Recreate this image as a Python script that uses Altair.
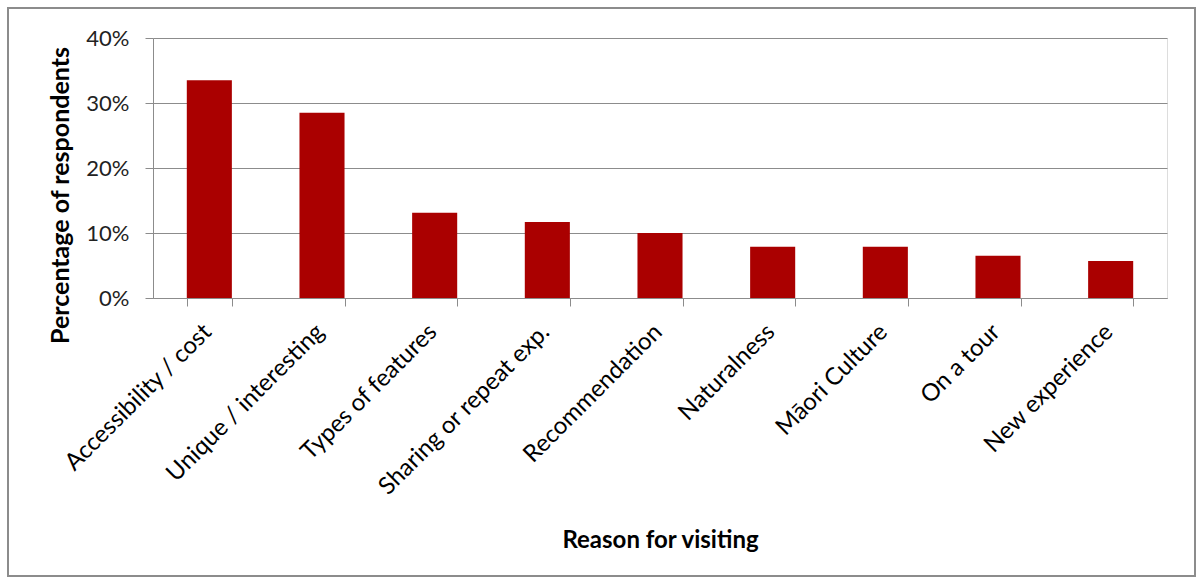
import altair as alt
import pandas as pd

reasons = ["Accessibility / cost", "Unique / interesting", "Types of features",
           "Sharing or repeat exp.", "Recommendation", "Naturalness",
           "Māori Culture", "On a tour", "New experience"]
shares = [0.335, 0.285, 0.131, 0.117, 0.100, 0.079, 0.079, 0.065, 0.057]
y_ticks = [0, 0.1, 0.2, 0.3, 0.4]

df = pd.DataFrame({"reason": reasons, "share": shares})

W, H = 1014, 260
FONT = "Lato"
GRID = "#8c8c8c"

bars = alt.Chart(df).mark_bar(color="#AA0000").encode(
    x=alt.X("reason:N", sort=reasons,
            scale=alt.Scale(paddingInner=0.6, paddingOuter=0.3),
            axis=alt.Axis(title="Reason for visiting", labelAngle=-45,
                          labelAlign="right", labelBaseline="middle",
                          labelPadding=22, labelOffset=-2, labelFontSize=24,
                          labelFont=FONT, labelLimit=0, labelOverlap=False,
                          labelColor="#000", tickBand="extent", tickSize=8,
                          tickColor=GRID, domainColor=GRID,
                          titleFont=FONT, titleFontSize=24, titleFontWeight="bold",
                          titleColor="#000", titleY=242, titleBaseline="middle")),
    y=alt.Y("share:Q", scale=alt.Scale(domain=[0, 0.4]),
            axis=alt.Axis(title="Percentage of respondents", format=".0%",
                          values=y_ticks, labelFontSize=22, labelFont=FONT,
                          labelColor="#222", labelPadding=16, tickSize=8,
                          tickColor=GRID, domainColor=GRID, gridColor=GRID,
                          titleFont=FONT, titleFontSize=25, titleFontWeight="bold",
                          titleColor="#000", titleX=-93, titleY=157,
                          titleAlign="center", titleBaseline="middle")),
)

frame = alt.Chart(alt.Data(values=[{"a": 1}])).mark_rect(
    fillOpacity=0, stroke="#8c8c8c", strokeWidth=2, clip=False
).encode(x=alt.value(-145), x2=alt.value(1042), y=alt.value(-30), y2=alt.value(538))

chart = alt.layer(frame, bars).properties(
    width=W, height=H,
    padding={"left": 153, "top": 38, "right": 35, "bottom": 284},
    autosize="none",
).configure_view(stroke=None).configure(background="white")

chart.save("out.html", embed_options={"renderer": "svg", "actions": False})
